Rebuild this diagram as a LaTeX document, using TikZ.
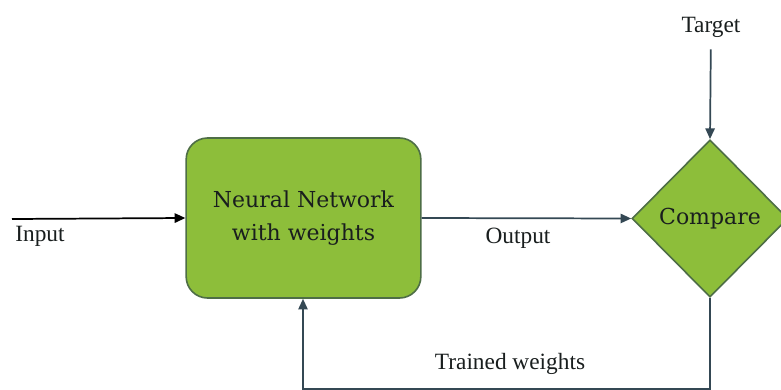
\documentclass[tikz,border=0pt]{standalone}
\usepackage{fontspec}
\setmainfont{Liberation Serif}
\newfontfamily\boxfont{DejaVu Serif}
\usetikzlibrary{shapes.geometric,arrows.meta}
\definecolor{boxgreen}{RGB}{141,190,58}
\definecolor{boxedge}{RGB}{78,110,70}
\definecolor{linecol}{RGB}{52,72,84}
\definecolor{txt}{RGB}{25,30,30}
\tikzset{
  procbox/.style={draw=boxedge, line width=1.2pt, fill=boxgreen, rounded corners=16pt,
    minimum width=176pt, minimum height=120pt, inner sep=0pt, align=center,
    font=\boxfont\fontsize{16.5}{25}\selectfont, text=txt},
  decbox/.style={draw=boxedge, line width=1.2pt, fill=boxgreen, shape=diamond, inner sep=0pt,
    minimum width=117pt, minimum height=118pt, font=\boxfont\fontsize{16.5}{25}\selectfont, text=txt},
  lbl/.style={font=\fontsize{17.5}{21}\selectfont, text=txt, inner sep=2pt},
  conn/.style={draw=linecol, line width=1.3pt, -{Triangle[length=8pt,width=7pt]}},
}
\begin{document}
\begin{tikzpicture}[x=0.75pt,y=-0.75pt]
\useasboundingbox (0,0) rectangle (781,389);
\fill[white] (0,0) rectangle (781,389);
\node[procbox] (nn) at (303.5,218) {Neural Network\\with weights};
\node[decbox] (cmp) at (710,218.5) {Compare};
\coordinate (inS) at (12,219);
\node[lbl] (inlab) at (40,236) {Input};
\node[lbl] (outlab) at (518,238) {Output};
\node[lbl] (tgt) at (711,27) {Target};
\node[lbl] (trlab) at (510,364) {Trained weights};
\coordinate (fbR) at (710,389);
\coordinate (fbL) at (303,389);
\draw[conn, draw=black] (inS) -- (nn.west);
\draw[conn] (nn.east) -- (cmp.west);
\draw[conn, shorten <=7pt] (tgt) -- (cmp.north);
\draw[conn] (cmp.south) -- (fbR) -- (fbL) -- (fbL |- nn.south);
\end{tikzpicture}
\end{document}
